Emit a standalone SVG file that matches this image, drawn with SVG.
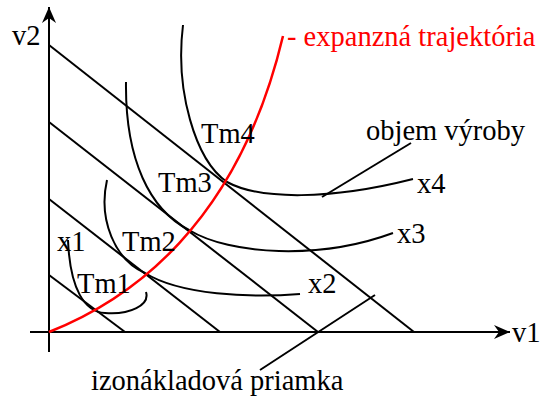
<svg xmlns="http://www.w3.org/2000/svg" width="550" height="400" viewBox="0 0 550 400">
<style>
.ln{fill:none;stroke:#000;stroke-width:2}
.red{fill:none;stroke:#f00;stroke-width:2.5}
.rt{fill:#f00}
</style>
<defs>
<marker id="arr" viewBox="-16 -8 18 16" refX="0" refY="0" markerWidth="18" markerHeight="16" markerUnits="userSpaceOnUse" orient="auto">
<path d="M0,0 L-16,-7 L-11,0 L-16,7 Z" fill="#000"/>
</marker>
</defs>
<rect width="550" height="400" fill="#fff"/>
<g font-family="'Liberation Serif', serif" font-size="28.5">
<g id="axes">
<line class="ln" x1="49" y1="352" x2="49" y2="7" marker-end="url(#arr)"/>
<line class="ln" x1="30" y1="332" x2="510" y2="332" marker-end="url(#arr)"/>
<text x="12" y="45">v2</text>
<text x="512" y="342">v1</text>
</g>
<g id="connectors">
<line class="ln" x1="49" y1="45" x2="414" y2="332"/>
<line class="ln" x1="49" y1="122" x2="318" y2="332"/>
<line class="ln" x1="49" y1="199" x2="220" y2="332"/>
<line class="ln" x1="49" y1="275" x2="125" y2="332"/>
<line class="ln" x1="322" y1="197" x2="411" y2="143"/>
<line class="ln" x1="260" y1="370" x2="375" y2="295"/>
</g>
<g id="x4">
<path class="ln" d="M183,25 C175,90 195,160 227,182 C260,200 330,200 413,179"/>
<text x="417" y="193">x4</text>
</g>
<g id="x3">
<path class="ln" d="M126,82 C125,160 150,210 189,230 C230,255 320,260 393,233"/>
<text x="397" y="243">x3</text>
</g>
<g id="x2">
<path class="ln" d="M107,180 C98,220 115,260 145,273 C180,295 250,298 300,294"/>
<text x="308" y="293">x2</text>
</g>
<g id="x1">
<path class="ln" d="M68,240 C70,290 85,312 105,313 C130,315 150,305 146,292"/>
<text x="57" y="251">x1</text>
</g>
<g id="expansion">
<path class="red" d="M49,332 C130,300 238,225 283,36"/>
<text class="rt" x="287" y="46">- expanzná trajektória</text>
</g>
<g id="labels">
<text x="201" y="143">Tm4</text>
<text x="158" y="192">Tm3</text>
<text x="122" y="251">Tm2</text>
<text x="77" y="293">Tm1</text>
<text x="366" y="140">objem výroby</text>
<text x="91" y="390">izonákladová priamka</text>
</g>
</g>
</svg>
